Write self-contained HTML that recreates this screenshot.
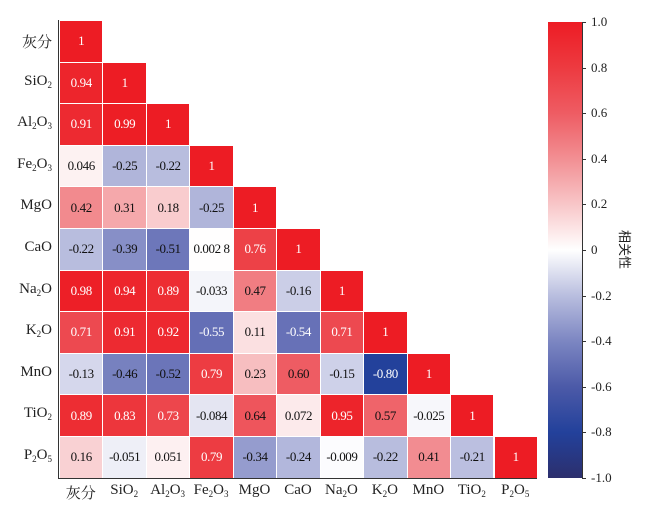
<!DOCTYPE html>
<html><head><meta charset="utf-8"><style>
body{margin:0;background:#fff;width:649px;height:515px;overflow:hidden;position:relative;font-family:"Liberation Serif","Noto Serif CJK SC",serif;}
.c{position:absolute;box-sizing:border-box;border:1px solid #fff;display:flex;align-items:center;justify-content:center;font-size:13px;letter-spacing:-0.4px}
.yl{position:absolute;right:597px;font-size:15px;color:#222;white-space:nowrap;text-align:right}
.xl{position:absolute;top:482px;font-size:15px;color:#222;white-space:nowrap;transform:translateX(-50%)}
sub{font-size:9px;vertical-align:-3px}
.t{position:absolute;left:591px;font-size:13px;color:#222;transform:translateY(-50%)}
.tk{position:absolute;left:582px;width:4px;height:1px;background:#333}
</style></head><body>
<div id="g"></div>
<div style="position:absolute;left:58px;top:20px;width:1px;height:459px;background:#333"></div>
<div style="position:absolute;left:58px;top:478px;width:479px;height:1px;background:#333"></div>
<div style="position:absolute;left:548px;top:22px;width:34px;height:456px;background:linear-gradient(to bottom,#ed1c24 0%,#ed3a40 10%,#ee5c63 20%,#f28f93 30%,#f8c6c8 40%,#ffffff 50%,#b9bedf 60%,#7c86c2 70%,#4c5aa8 80%,#23419b 90%,#2c2f6d 100%)"></div>
<div style="position:absolute;left:582px;top:22px;width:1px;height:456px;background:#333"></div>
<div style="position:absolute;left:606px;top:240px;font-size:13px;color:#222;transform:rotate(90deg);transform-origin:center;font-family:'Noto Sans CJK SC',sans-serif">相关性</div>
<script>
const names=['灰分','SiO<sub>2</sub>','Al<sub>2</sub>O<sub>3</sub>','Fe<sub>2</sub>O<sub>3</sub>','MgO','CaO','Na<sub>2</sub>O','K<sub>2</sub>O','MnO','TiO<sub>2</sub>','P<sub>2</sub>O<sub>5</sub>'];
const d=[["1"],["0.94","1"],["0.91","0.99","1"],["0.046","-0.25","-0.22","1"],["0.42","0.31","0.18","-0.25","1"],["-0.22","-0.39","-0.51","0.002 8","0.76","1"],["0.98","0.94","0.89","-0.033","0.47","-0.16","1"],["0.71","0.91","0.92","-0.55","0.11","-0.54","0.71","1"],["-0.13","-0.46","-0.52","0.79","0.23","0.60","-0.15","-0.80","1"],["0.89","0.83","0.73","-0.084","0.64","0.072","0.95","0.57","-0.025","1"],["0.16","-0.051","0.051","0.79","-0.34","-0.24","-0.009","-0.22","0.41","-0.21","1"]];
const stops=[[-1,[44,47,109]],[-0.8,[35,65,155]],[-0.6,[90,102,176]],[-0.4,[132,140,198]],[-0.2,[190,194,225]],[0,[255,255,255]],[0.2,[248,198,200]],[0.4,[242,143,147]],[0.6,[238,92,99]],[0.8,[237,58,64]],[1,[237,28,36]]];
function col(v){for(let i=0;i<stops.length-1;i++){const[a,ca]=stops[i],[b,cb]=stops[i+1];if(v<=b){const t=(v-a)/(b-a);return 'rgb('+ca.map((x,k)=>Math.round(x+(cb[k]-x)*t)).join(',')+')';}}return 'rgb(237,28,36)';}
const X0=59,Y0=20,W=43.45,H=41.6;let h='';
for(let r=0;r<11;r++){for(let c=0;c<=r;c++){const s=d[r][c],v=parseFloat(s.replace(' ',''));const fg=(v>=0.7||v<=-0.53)?'#fff':'#111';
h+=`<div class="c" style="left:${X0+c*W}px;top:${Y0+r*H}px;width:${W+1}px;height:${H+1}px;background:${col(v)};color:${fg}">${s}</div>`;}
h+=`<div class="yl" style="top:${Y0+r*H+11}px">${names[r]}</div>`;
h+=`<div class="xl" style="left:${X0+r*W+W/2}px">${names[r]}</div>`;}
const tl=['1.0','0.8','0.6','0.4','0.2','0','-0.2','-0.4','-0.6','-0.8','-1.0'];
tl.forEach((t,i)=>{const y=22+i*45.6;h+=`<div class="tk" style="top:${y}px"></div><div class="t" style="top:${y}px">${t}</div>`;});
document.getElementById('g').innerHTML=h;
</script>
</body></html>
